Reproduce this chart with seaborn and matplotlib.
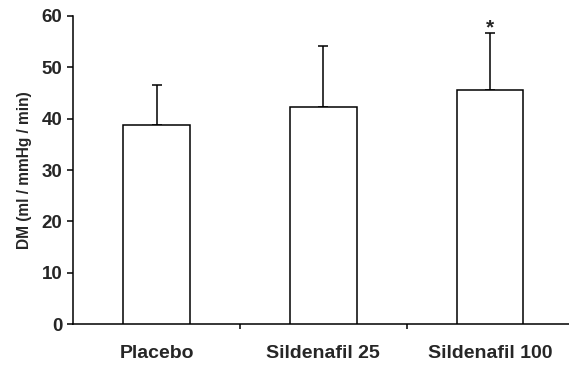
import matplotlib
matplotlib.use("Agg")
import matplotlib.pyplot as plt
import seaborn as sns
import pandas as pd
import numpy as np

categories = ["Placebo", "Sildenafil 25", "Sildenafil 100"]
means = [38.7, 42.2, 45.5]
sd_upper = [7.8, 12.0, 11.1]
significance = ["", "", "*"]

sns.set_style("white")
plt.rcParams['font.family'] = ['Liberation Sans', 'DejaVu Sans']
plt.rcParams['font.weight'] = 'bold'

df = pd.DataFrame({"group": categories, "DM": means})

fig = plt.figure(figsize=(5.69, 3.67), dpi=100)
ax = fig.add_axes([0.1289, 0.1163, 1.0 - 0.1289, 0.9572 - 0.1163])

sns.barplot(data=df, x="group", y="DM", ax=ax, width=0.4, color="white",
            edgecolor="black", linewidth=1.1, zorder=3, errorbar=None)
for p in ax.patches:
    p.set_facecolor("white")
    p.set_edgecolor("black")

xpos = np.arange(len(categories))
ax.errorbar(xpos, means, yerr=[np.zeros(len(means)), sd_upper], fmt="none",
            ecolor="black", elinewidth=1.1, capsize=3.8, capthick=1.1, zorder=2)

for x, m, s, lab in zip(xpos, means, sd_upper, significance):
    if lab:
        ax.text(x, m + s - 0.1, lab, ha="center", va="baseline", fontsize=15,
                fontweight="bold")

ax.set_xlim(-0.5, 2.474)
ax.set_ylim(0, 60)
ax.set_yticks([0, 10, 20, 30, 40, 50, 60])
ax.set_xlabel("")
ax.set_ylabel("DM (ml / mmHg / min)", fontsize=11.2, fontweight="bold", labelpad=7)

for side in ["top", "right"]:
    ax.spines[side].set_visible(False)
for side in ["left", "bottom"]:
    ax.spines[side].set_linewidth(1.1)
    ax.spines[side].set_color("black")

ax.tick_params(axis="y", direction="out", length=4, width=1.1, pad=4,
               labelsize=13.5, left=True, color="black")
ax.tick_params(axis="x", which="major", length=0, pad=15, labelsize=14)
ax.set_xticks([0.5, 1.5], minor=True)
ax.tick_params(axis="x", which="minor", direction="out", length=3.5, width=1.1,
               bottom=True, color="black")
for lbl in ax.get_xticklabels() + ax.get_yticklabels():
    lbl.set_fontweight("bold")

fig.savefig("out.png", dpi=100)
